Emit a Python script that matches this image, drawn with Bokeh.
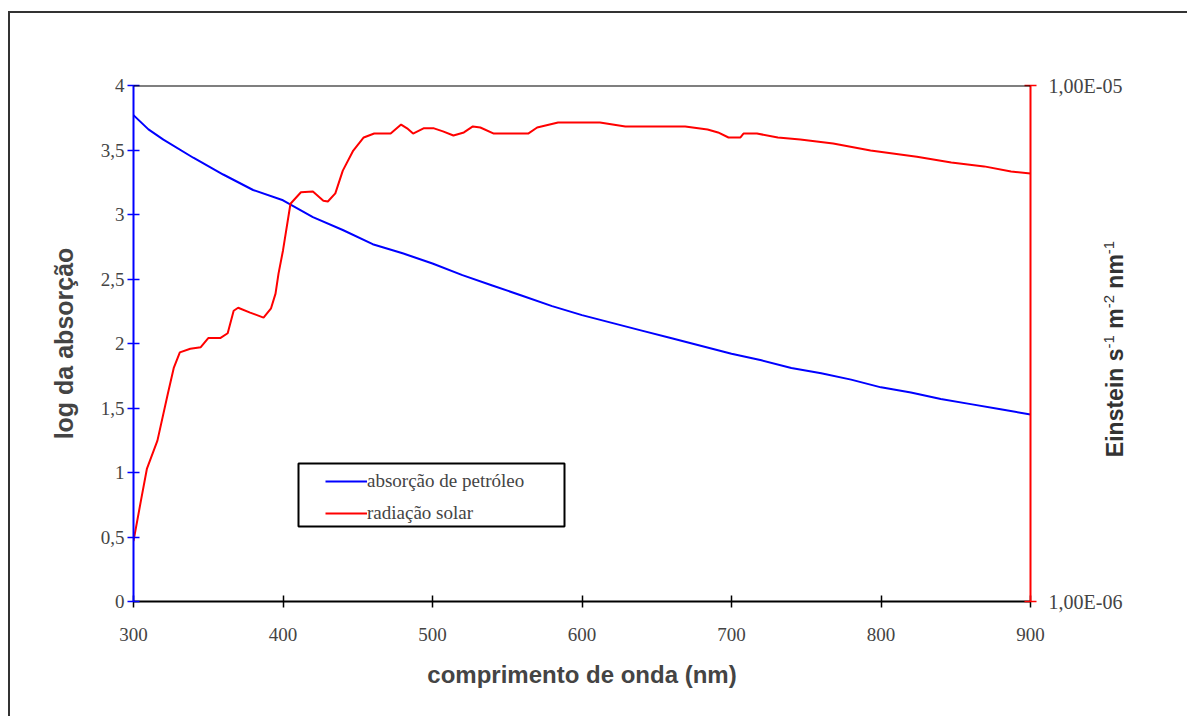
from bokeh.plotting import figure
from bokeh.layouts import column
from bokeh.models import (Range1d, LogScale, LogAxis, FixedTicker, CustomJSTickFormatter,
                          Legend, LegendItem, Span, BoxAnnotation, Div)
from bokeh.embed import file_html
from bokeh.resources import INLINE

# ---- data ----
wl_abs = [300, 310, 320, 340, 360, 380, 400, 420, 440, 460, 480, 500, 520, 540, 560, 580,
          600, 620, 640, 660, 680, 700, 720, 740, 760, 780, 800, 820, 840, 860, 880, 900]
log_abs = [3.77, 3.66, 3.58, 3.44, 3.31, 3.19, 3.11, 2.98, 2.88, 2.77, 2.70, 2.62, 2.53, 2.45,
           2.37, 2.29, 2.22, 2.16, 2.10, 2.04, 1.98, 1.92, 1.87, 1.81, 1.77, 1.72, 1.66, 1.62,
           1.57, 1.53, 1.49, 1.45]

wl_sol = [300, 305, 309, 316, 323, 327, 331, 338, 345, 350, 358, 363, 367, 370, 378, 387, 392,
          395, 397, 400, 405, 412, 420, 427, 430, 435, 440, 447, 454, 461, 472, 479, 483, 487,
          494, 501, 507, 514, 521, 527, 532, 541, 564, 570, 584, 612, 629, 669, 684, 691, 698,
          706, 708, 717, 731, 746, 768, 793, 824, 847, 869, 887, 900]
rad_sol = [1.31e-6, 1.57e-6, 1.81e-6, 2.05e-6, 2.53e-6, 2.84e-6, 3.04e-6, 3.09e-6, 3.11e-6,
           3.24e-6, 3.24e-6, 3.31e-6, 3.66e-6, 3.71e-6, 3.63e-6, 3.55e-6, 3.70e-6, 3.95e-6,
           4.32e-6, 4.79e-6, 5.90e-6, 6.21e-6, 6.23e-6, 5.98e-6, 5.96e-6, 6.18e-6, 6.84e-6,
           7.48e-6, 7.93e-6, 8.07e-6, 8.07e-6, 8.40e-6, 8.26e-6, 8.07e-6, 8.26e-6, 8.26e-6,
           8.15e-6, 8.00e-6, 8.11e-6, 8.33e-6, 8.29e-6, 8.07e-6, 8.07e-6, 8.29e-6, 8.48e-6,
           8.48e-6, 8.33e-6, 8.33e-6, 8.22e-6, 8.11e-6, 7.93e-6, 7.93e-6, 8.07e-6, 8.07e-6,
           7.93e-6, 7.86e-6, 7.72e-6, 7.48e-6, 7.28e-6, 7.09e-6, 6.97e-6, 6.81e-6, 6.75e-6]

x_ticks = [300, 400, 500, 600, 700, 800, 900]
y_ticks = [0, 0.5, 1, 1.5, 2, 2.5, 3, 3.5, 4]
rad_ticks = [1e-6, 1e-5]
rad_labels = ["1,00E-06", "1,00E-05"]
right_title_html = ("Einstein s<sup style='font-size:65%;font-weight:normal'>-1</sup> "
                    "m<sup style='font-size:65%;font-weight:normal'>-2</sup> "
                    "nm<sup style='font-size:65%;font-weight:normal'>-1</sup>")

SERIF = "Liberation Serif"
SANS = "Liberation Sans"

# outer chart border is drawn with CSS; offsets compensate for margin+border
OFF_X, OFF_Y = 10, 13

p = figure(width=1189 - OFF_X, height=718 - OFF_Y, output_backend="svg", toolbar_location=None,
           x_range=Range1d(300, 900), y_range=Range1d(0, 4),
           min_border_left=133 - OFF_X, min_border_right=159, min_border_top=85 - OFF_Y,
           min_border_bottom=117,
           background_fill_color="white", border_fill_color="white")
p.styles = {"margin-left": "8px", "margin-top": "11px",
            "border-left": "2px solid #333333", "border-top": "2px solid #333333"}
p.extra_y_ranges = {"rad": Range1d(rad_ticks[0], rad_ticks[1])}
p.extra_y_scales = {"rad": LogScale()}
p.outline_line_color = None
p.xgrid.visible = False
p.ygrid.visible = False

comma = CustomJSTickFormatter(code="return tick.toString().replace('.', ',');")

# bottom axis
xa = p.xaxis[0]
xa.ticker = FixedTicker(ticks=x_ticks, minor_ticks=[])
xa.formatter = comma
xa.axis_line_color = "black"
xa.axis_line_width = 2
xa.major_tick_line_color = "black"
xa.major_tick_line_width = 1.5
xa.major_tick_in = 6
xa.major_tick_out = 6
xa.minor_tick_line_color = None
xa.major_label_text_font = SERIF
xa.major_label_text_font_size = "19px"
xa.major_label_standoff = 20
xa.axis_label = "comprimento de onda (nm)"
xa.axis_label_text_font = SANS
xa.axis_label_text_font_style = "bold"
xa.axis_label_text_font_size = "24px"
xa.axis_label_standoff = 17

# left axis
ya = p.yaxis[0]
ya.ticker = FixedTicker(ticks=y_ticks, minor_ticks=[])
ya.formatter = comma
ya.axis_line_color = "blue"
ya.axis_line_width = 2
ya.major_tick_line_color = "blue"
ya.major_tick_line_width = 1.5
ya.major_tick_in = 6
ya.major_tick_out = 6
ya.minor_tick_line_color = None
ya.major_label_text_font = SERIF
ya.major_label_text_font_size = "19px"
ya.major_label_standoff = 3
ya.axis_label = "log da absorção"
ya.axis_label_text_font = SANS
ya.axis_label_text_font_style = "bold"
ya.axis_label_text_font_size = "25px"
ya.axis_label_standoff = 20

# right axis (log)
ra = LogAxis(y_range_name="rad")
ra.ticker = FixedTicker(ticks=rad_ticks, minor_ticks=[])
ra.formatter = CustomJSTickFormatter(
    args=dict(labs=rad_labels),
    code="return tick < 3e-6 ? labs[0] : labs[1];")
ra.axis_line_color = "red"
ra.axis_line_width = 2
ra.major_tick_line_color = "red"
ra.major_tick_line_width = 1.5
ra.major_tick_in = 6
ra.major_tick_out = 6
ra.minor_tick_line_color = None
ra.major_label_text_font = SERIF
ra.major_label_text_font_size = "20px"
ra.major_label_standoff = 12
p.add_layout(ra, "right")

# top frame line
p.add_layout(Span(location=4, dimension="width", line_color="black", line_width=2))

# curves
blue = p.line(wl_abs, log_abs, line_color="blue", line_width=2)
red = p.line(wl_sol, rad_sol, line_color="red", line_width=2, y_range_name="rad")

# legend box (decoration)
p.add_layout(BoxAnnotation(left=296 - OFF_X, right=562 - OFF_X, top=461 - OFF_Y, bottom=524 - OFF_Y,
                           left_units="canvas", right_units="canvas",
                           top_units="canvas", bottom_units="canvas",
                           fill_color="white", fill_alpha=1.0,
                           line_color="black", line_alpha=1.0, line_width=2,
                           level="annotation"))

leg = Legend(items=[LegendItem(label="absorção de petróleo", renderers=[blue]),
                    LegendItem(label="radiação solar", renderers=[red])],
             location=(192, 77), padding=7, spacing=10, margin=0,
             glyph_width=42, glyph_height=20, label_height=20, label_standoff=0,
             border_line_color=None, background_fill_alpha=0,
             label_text_font=SERIF, label_text_font_size="19px")
p.add_layout(leg, "center")

# right-hand axis title (reads bottom-to-top, centred on the plot frame)
TW, TH = 240, 30
right_title = Div(text=right_title_html, width=TW, height=TH,
                  styles={"position": "absolute", "left": f"{1104 - TW // 2}px",
                          "top": f"{344 - TH // 2}px", "transform": "rotate(-90deg)",
                          "text-align": "center", "white-space": "nowrap",
                          "font-family": SANS, "font-weight": "bold", "font-size": "23px",
                          "line-height": f"{TH}px", "color": "#333333"})

layout = column(p, right_title)
open("out.html", "w").write(file_html(layout, INLINE))
